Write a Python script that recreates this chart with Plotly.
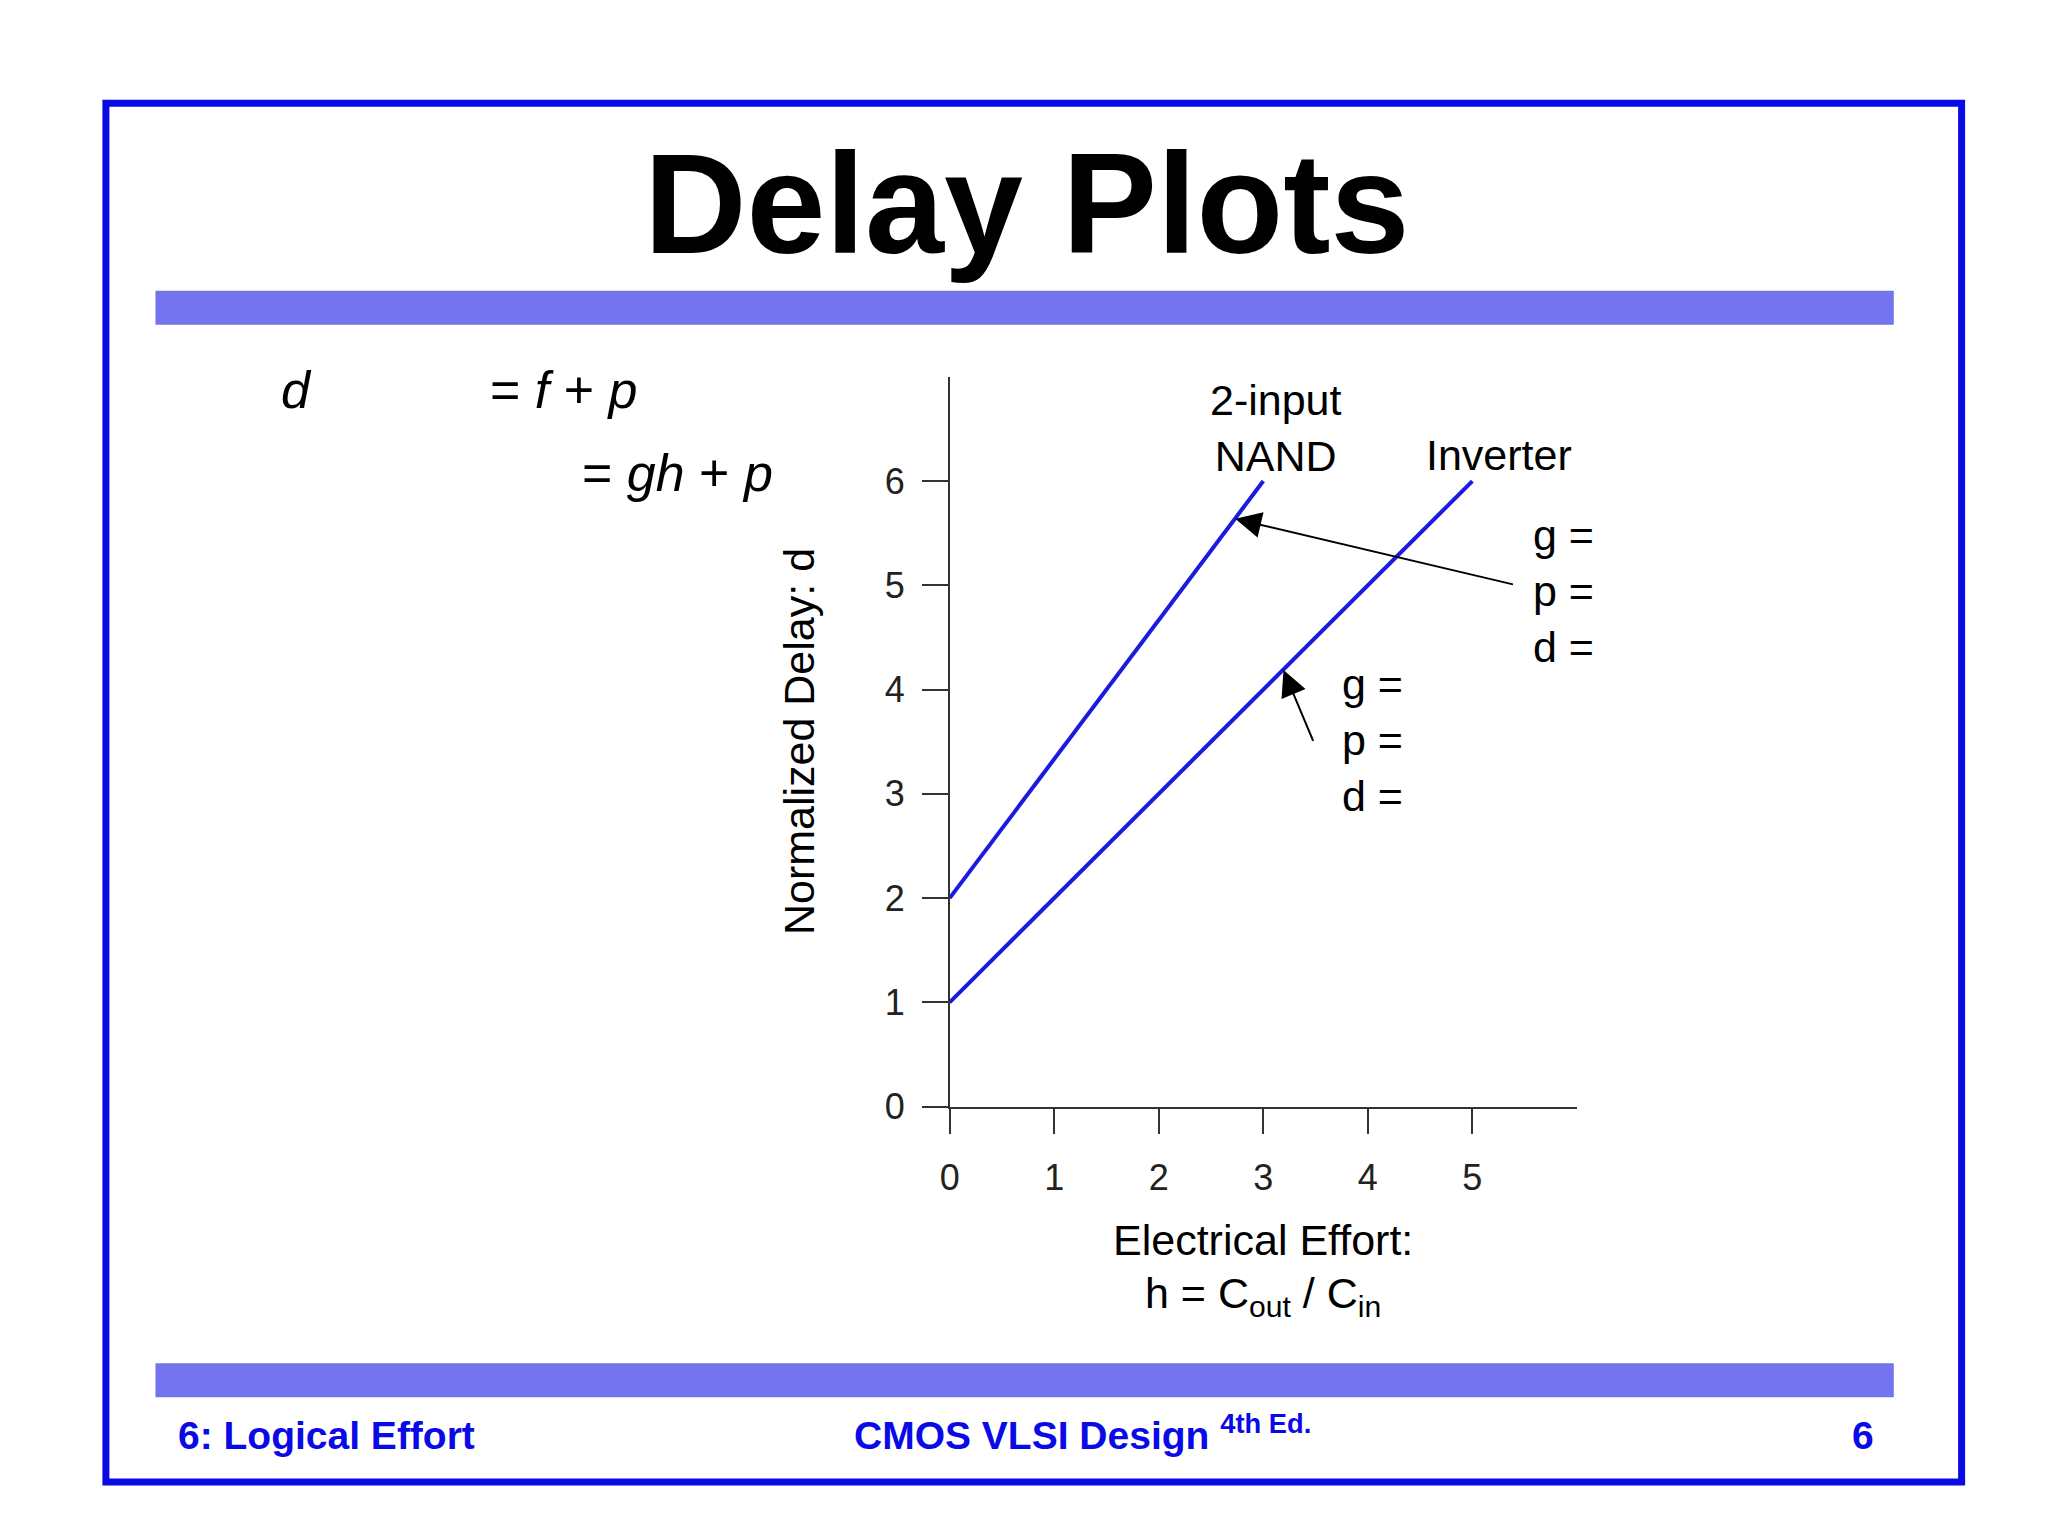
import plotly.graph_objects as go

# data
nand_h = [0, 3]
nand_d = [2, 6]
inv_h = [0, 5]
inv_d = [1, 6]
x_ticks = [0, 1, 2, 3, 4, 5]
y_ticks = [0, 1, 2, 3, 4, 5, 6]

W0, H0 = 1555.0, 1166.0
def X(px): return ((px - 11.6) / 1.005) / W0
def Y(py): return 1 - ((py - 5) / 0.997) / H0
S = 2048 / W0
BLUE = "#0a0ae6"
FONT = "Liberation Sans, Arial, sans-serif"

fig = go.Figure()
fig.add_trace(go.Scatter(x=nand_h, y=nand_d, mode="lines", line=dict(color="#1a1ae0", width=4), showlegend=False))
fig.add_trace(go.Scatter(x=inv_h, y=inv_d, mode="lines", line=dict(color="#1a1ae0", width=4), showlegend=False))

axcommon = dict(showgrid=False, zeroline=False, showline=True, linecolor="#333", linewidth=1.5,
                ticks="outside", ticklen=26, tickwidth=1.5, tickcolor="#333",
                tickfont=dict(family=FONT, size=36, color="#222"))
fig.update_layout(
    width=2048, height=1536, margin=dict(l=0, r=0, t=0, b=0),
    paper_bgcolor="white", plot_bgcolor="white",
    xaxis=dict(range=[0, 6], domain=[X(726), X(1207)], tickvals=x_ticks, anchor="y", ticklabelstandoff=12, **axcommon),
    yaxis=dict(range=[0, 7], domain=[Y(848), Y(288)], tickvals=y_ticks, anchor="x", ticklabelstandoff=10, **axcommon),
)

shapes = [
    dict(type="rect", xref="paper", yref="paper", x0=X(79), x1=X(1502), y0=Y(78), y1=Y(1136),
         line=dict(color=BLUE, width=7)),
    dict(type="rect", xref="paper", yref="paper", x0=X(117), x1=X(1450), y0=Y(222), y1=Y(248),
         fillcolor="#7373ee", line=dict(width=0)),
    dict(type="rect", xref="paper", yref="paper", x0=X(117), x1=X(1450), y0=Y(1045), y1=Y(1071),
         fillcolor="#7373ee", line=dict(width=0)),
]
fig.update_layout(shapes=shapes)

def ann(text, px, py, size, color="black", bold=False, italic=False, xanchor="center", **kw):
    t = text
    if bold: t = "<b>" + t + "</b>"
    if italic: t = "<i>" + t + "</i>"
    fig.add_annotation(text=t, x=X(px), y=Y(py), xref="paper", yref="paper", showarrow=False,
                       xanchor=xanchor, yanchor="middle", font=dict(family=FONT, size=size, color=color), **kw)

ann("Delay Plots", 785, 155, 142, bold=True)
ann("d", 225, 298, 52, italic=True)
ann("= <i>f</i> + <i>p</i>", 430, 298, 52)
ann("= <i>gh</i> + <i>p</i>", 517, 362, 52)
ann("2-input<br>NAND", 976, 327, 43)
ann("Inverter", 1147, 348, 43)
ann("g =<br>p =<br>d =", 1172, 452, 43, xanchor="left", align="left")
ann("g =<br>p =<br>d =", 1025, 567, 43, xanchor="left", align="left")
ann("Normalized Delay: d", 610, 568, 43, textangle=-90)
ann("Electrical Effort:", 966, 950, 43)
ann("h = C<sub>out</sub> / C<sub>in</sub>", 966, 993, 43)
ann("6: Logical Effort", 133, 1100, 39, color=BLUE, bold=True, xanchor="left")
ann("CMOS VLSI Design <sup>4th Ed.</sup>", 828, 1098, 39, color=BLUE, bold=True)
ann("6", 1426, 1100, 39, color=BLUE, bold=True)

for tx, ty, hx, hy in [(1157, 447, 945, 397), (1005, 568, 982, 513)]:
    fig.add_annotation(x=X(hx), y=Y(hy), ax=(tx - hx) * S, ay=(ty - hy) * S, xref="paper", yref="paper",
                       axref="pixel", ayref="pixel", text="", showarrow=True,
                       arrowhead=2, arrowsize=2.6, arrowwidth=2, arrowcolor="black")

fig.write_html("out.html")
